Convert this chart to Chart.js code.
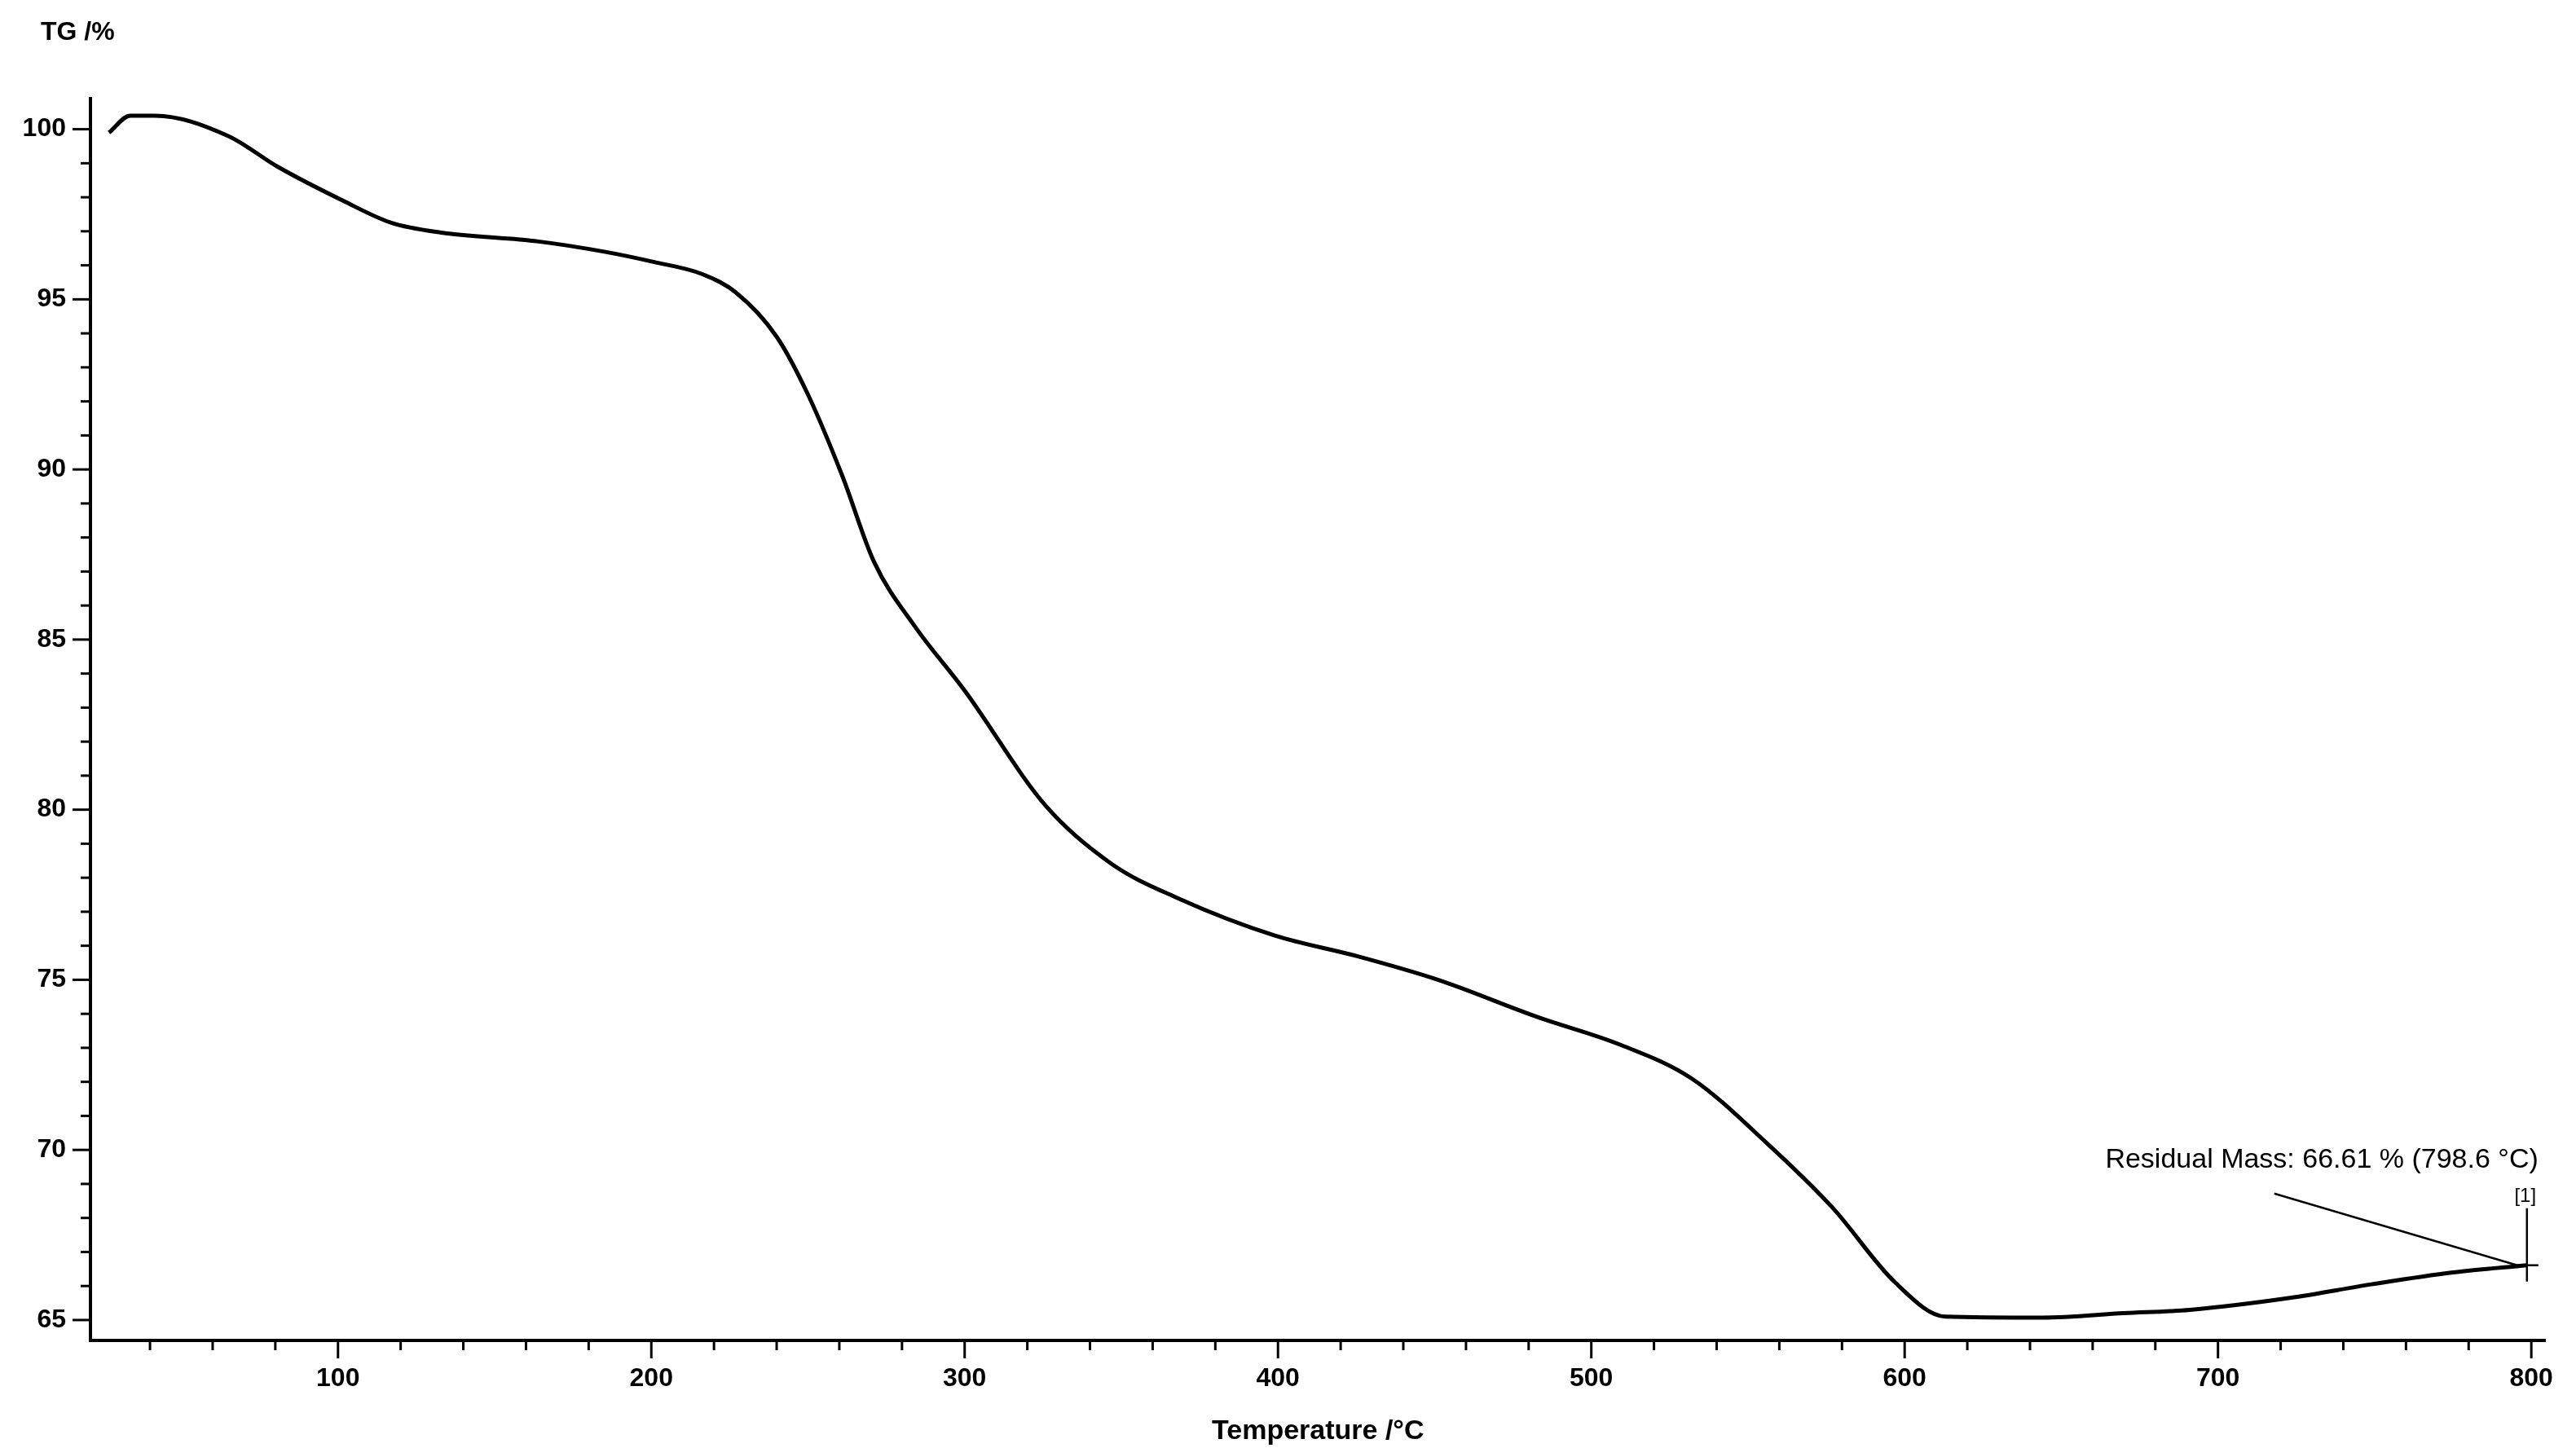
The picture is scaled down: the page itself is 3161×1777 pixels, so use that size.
<!DOCTYPE html>
<html><head><meta charset="utf-8">
<script src="https://cdn.jsdelivr.net/npm/chart.js@4/dist/chart.umd.min.js"></script>
<style>html,body{margin:0;padding:0;background:#fff}canvas{display:block}</style>
</head><body>
<div style="width:3161px;height:1777px"><canvas id="c"></canvas></div>
<script>
const temperature = [26.9,33.7,41.5,65,80.7,101.6,117,133,164,185,200.7,216,227,240,250,261,271,284,300,326,347,368,399,425,451,483,509,532,556,577,597,613,644,670,691,723,749,775,798.6];
const tgMass = [99.9,100.4,100.4,99.8,98.9,97.9,97.25,96.96,96.7,96.4,96.1,95.75,95.2,93.9,92.2,89.8,87.3,85.4,83.5,80.1,78.4,77.4,76.3,75.7,75.0,73.9,73.1,72.1,70.2,68.3,66.1,65.1,65.07,65.2,65.3,65.65,66.05,66.4,66.61];
const xMajorTicks = [100,200,300,400,500,600,700,800];
const yMajorTicks = [65,70,75,80,85,90,95,100];
const annotationText = 'Residual Mass: 66.61 % (798.6 °C)';
const annotationX = 798.6, annotationY = 66.61;

const font = '"Liberation Sans", Arial, sans-serif';
const ticksPlugin = {
  id:'extra',
  afterDraw(chart){
    const {ctx, scales:{x,y}, chartArea:a} = chart;
    ctx.save();
    ctx.strokeStyle='#000'; ctx.lineWidth=3;
    for(let v=40; v<=800; v+=20){
      const px=x.getPixelForValue(v); const major=v%100===0;
      ctx.beginPath(); ctx.moveTo(px,a.bottom); ctx.lineTo(px,a.bottom+(major?22:12)); ctx.stroke();
    }
    for(let v=65; v<=100; v+=1){
      const py=y.getPixelForValue(v); const major=v%5===0;
      ctx.beginPath(); ctx.moveTo(a.left,py); ctx.lineTo(a.left-(major?22:12),py); ctx.stroke();
    }
    ctx.fillStyle='#000'; ctx.font='bold 32px '+font; ctx.textAlign='left'; ctx.textBaseline='middle';
    ctx.fillText('TG /%', 50, 40);
    // annotation
    const px=x.getPixelForValue(annotationX), py=y.getPixelForValue(annotationY);
    ctx.lineWidth=2.5;
    ctx.beginPath(); ctx.moveTo(px-12,py); ctx.lineTo(px+14,py); ctx.stroke();
    ctx.beginPath(); ctx.moveTo(px,py+20); ctx.lineTo(px,py-70); ctx.stroke();
    ctx.beginPath(); ctx.moveTo(px-12,py); ctx.lineTo(px-310,py-88); ctx.stroke();
    ctx.font='34px '+font; ctx.textAlign='right'; ctx.textBaseline='alphabetic';
    ctx.fillText(annotationText, px+14, py-120);
    ctx.font='24px '+font; ctx.textAlign='center';
    ctx.fillText('[1]', px-2, py-78);
    ctx.restore();
  }
};

new Chart(document.getElementById('c'), {
  type:'line',
  data:{datasets:[{data:temperature.map((t,i)=>({x:t,y:tgMass[i]})), borderColor:'#000', borderWidth:5, pointRadius:0, cubicInterpolationMode:'monotone', fill:false}]},
  options:{
    responsive:true, maintainAspectRatio:false, animation:false, devicePixelRatio:1,
    layout:{padding:{top:121,right:24,left:0,bottom:0}},
    plugins:{legend:{display:false},tooltip:{enabled:false}},
    scales:{
      x:{type:'linear',min:21,max:804.5,
        afterBuildTicks(s){s.ticks=xMajorTicks.map(v=>({value:v}));},
        afterFit(s){s.height=132;},
        grid:{display:false,drawTicks:false}, border:{color:'#000',width:4},
        ticks:{color:'#000',font:{family:font,weight:'bold',size:32},padding:28,maxRotation:0},
        title:{display:true,text:'Temperature /°C',color:'#000',font:{family:font,weight:'bold',size:34},padding:{top:0,bottom:0}}},
      y:{type:'linear',min:64.4,max:100.9,
        afterBuildTicks(s){s.ticks=yMajorTicks.map(v=>({value:v}));},
        afterFit(s){s.width=111;},
        grid:{display:false,drawTicks:false}, border:{color:'#000',width:4},
        ticks:{color:'#000',font:{family:font,weight:'bold',size:32},padding:30}}
    }
  },
  plugins:[ticksPlugin]
});
</script>
</body></html>
